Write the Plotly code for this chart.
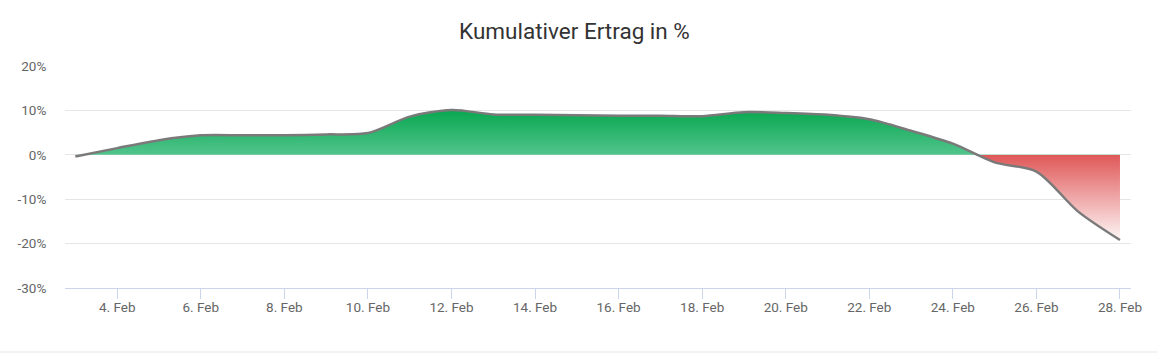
import plotly.graph_objects as go

dates = [f"2021-02-{d:02d}" for d in range(3, 29)]
values = [-0.4, 1.5, 3.3, 4.4, 4.4, 4.4, 4.6, 4.9, 8.6, 10.1, 9.1, 9.0, 8.9, 8.8,
          8.8, 8.7, 9.6, 9.4, 9.0, 8.0, 5.4, 2.5, -1.7, -3.8, -12.8, -19.2]
tick_vals = [f"2021-02-{d:02d}" for d in range(4, 29, 2)]
tick_text = [f"{d}. Feb" for d in range(4, 29, 2)]
y_ticks = [-30, -20, -10, 0, 10, 20]
y_text = [f"{v}%" for v in y_ticks]

vmin, vmax = min(values), max(values)
f0 = (0 - vmin) / (vmax - vmin)
colorscale = [
    [0.0, "rgb(253,246,246)"],
    [f0 - 0.0005, "rgb(224,88,88)"],
    [f0, "rgb(82,196,141)"],
    [1.0, "rgb(8,167,79)"],
]

fig = go.Figure()
fig.add_trace(go.Scatter(
    x=dates, y=values, mode="lines",
    line=dict(color="rgb(122,122,122)", width=2.5, shape="spline", smoothing=0.8),
    fill="tozeroy",
    fillgradient=dict(type="vertical", colorscale=colorscale, start=vmin, stop=vmax),
    hoverinfo="x+y", showlegend=False,
))

fig.update_layout(
    width=1157, height=353,
    margin=dict(l=65, r=26, t=66, b=65),
    paper_bgcolor="white", plot_bgcolor="white",
    font=dict(family="Roboto", color="#666666", size=13.5),
    title=dict(text="Kumulativer Ertrag in %", x=0.4965, xanchor="center",
               y=1 - 31 / 353, yanchor="middle",
               font=dict(family="Roboto", size=22.5, color="#333333")),
    xaxis=dict(
        range=["2021-02-02 18:00", "2021-02-28 06:20"],
        tickvals=tick_vals, ticktext=tick_text,
        showgrid=False, zeroline=False,
        showline=True, linecolor="#ccd6eb", linewidth=1,
        ticks="outside", ticklen=10, tickcolor="#ccd6eb", tickwidth=1,
        ticklabelstandoff=-3,
        tickfont=dict(size=13.5, color="#666666"),
    ),
    yaxis=dict(
        range=[-30, 20], tickvals=y_ticks, ticktext=y_text,
        showgrid=True, gridcolor="#e6e6e6", gridwidth=1,
        zeroline=False, showline=False,
        ticks="outside", ticklen=15, tickcolor="rgba(0,0,0,0)",
        tickfont=dict(size=13.5, color="#666666"),
    ),
    shapes=[dict(type="line", xref="paper", yref="paper",
                 x0=-65 / 1066, x1=1092 / 1066, y0=-(352 - 288) / 222, y1=-(352 - 288) / 222,
                 line=dict(color="#e6e6e6", width=1))],
)

fig.write_html("out.html")
